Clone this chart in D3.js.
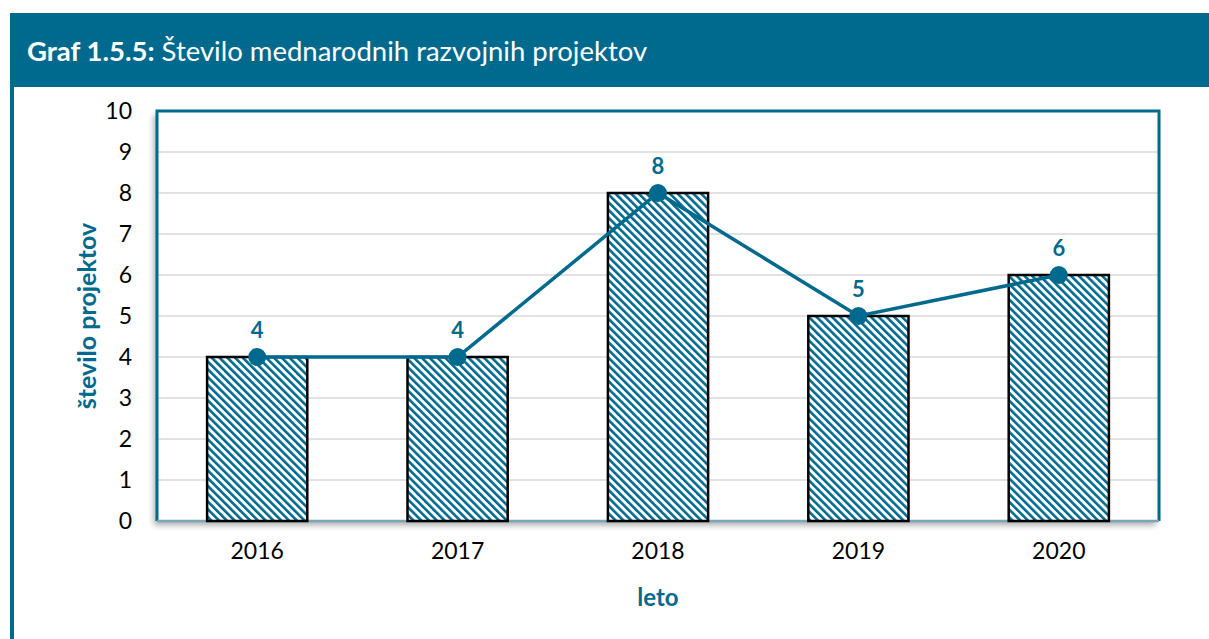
<!DOCTYPE html>
<html>
<head>
<meta charset="utf-8">
<script src="https://cdn.jsdelivr.net/npm/d3@7"></script>
<style>
  html, body { margin: 0; padding: 0; background: #fff; }
  svg { display: block; font-family: Lato, "Open Sans", sans-serif; }
</style>
</head>
<body>
<svg id="svg" width="1209" height="639"></svg>
<script>
const years = ["2016", "2017", "2018", "2019", "2020"];
const projects = [4, 4, 8, 5, 6];
const yTicks = [0, 1, 2, 3, 4, 5, 6, 7, 8, 9, 10];

const teal = "#006a8e";
const svg = d3.select("#svg");
const defs = svg.append("defs");

// diagonal hatch for bars
const pat = defs.append("pattern")
    .attr("id", "hatch")
    .attr("patternUnits", "userSpaceOnUse")
    .attr("width", 5.5).attr("height", 5.5)
    .attr("patternTransform", "rotate(-45)");
pat.append("rect").attr("width", 5.5).attr("height", 5.5).attr("fill", "#fff");
pat.append("rect").attr("width", 2.6).attr("height", 5.5).attr("fill", teal);

const shadow = defs.append("filter").attr("id", "shadow")
    .attr("x", "-5%").attr("y", "-5%").attr("width", "110%").attr("height", "115%");
shadow.append("feDropShadow")
    .attr("dx", -3).attr("dy", 4).attr("stdDeviation", 3)
    .attr("flood-color", "#000").attr("flood-opacity", 0.35);

// header band + left rule
svg.append("rect").attr("x", 10).attr("y", 13).attr("width", 1199).attr("height", 74).attr("fill", teal);
svg.append("rect").attr("x", 10).attr("y", 87).attr("width", 4).attr("height", 552).attr("fill", teal);

const title = svg.append("text").attr("x", 27).attr("y", 61)
    .attr("fill", "#fff").attr("font-size", 27.5);
title.append("tspan").attr("font-weight", "bold").text("Graf 1.5.5:");
title.append("tspan").text(" Število mednarodnih razvojnih projektov");

const plotL = 157, plotR = 1159, plotT = 111, plotB = 521;

const x = d3.scaleBand().domain(years).range([plotL, plotR])
    .paddingInner(0.5).paddingOuter(0.25);
const y = d3.scaleLinear().domain([0, 10]).range([plotB, plotT]);

// plot area with shadow
svg.append("rect")
    .attr("x", plotL).attr("y", plotT).attr("width", plotR - plotL).attr("height", plotB - plotT)
    .attr("fill", "#fff").attr("filter", "url(#shadow)");

// gridlines
svg.append("g").selectAll("line").data(yTicks.slice(1, -1)).join("line")
    .attr("x1", plotL).attr("x2", plotR)
    .attr("y1", d => y(d)).attr("y2", d => y(d))
    .attr("stroke", "#d9d9d9").attr("stroke-width", 1.5);

// border
svg.append("path")
    .attr("d", `M${plotL},${plotB}V${plotT}H${plotR}V${plotB}`)
    .attr("fill", "none").attr("stroke", teal).attr("stroke-width", 3);
svg.append("line")
    .attr("x1", plotL).attr("x2", plotR).attr("y1", plotB).attr("y2", plotB)
    .attr("stroke", "#7aa6b8").attr("stroke-width", 2.5);

// y axis labels
const yAxis = svg.append("g").attr("transform", `translate(${plotL - 25},0)`)
    .call(d3.axisLeft(y).tickValues(yTicks).tickSize(0).tickPadding(0));
yAxis.select(".domain").remove();
yAxis.selectAll("text").attr("font-size", 23).attr("fill", "#000")
    .attr("font-family", "Lato, sans-serif");

// x axis labels
const xAxis = svg.append("g").attr("transform", `translate(0,${plotB + 22})`)
    .call(d3.axisBottom(x).tickSize(0).tickPadding(0));
xAxis.select(".domain").remove();
xAxis.selectAll("text").attr("font-size", 23).attr("fill", "#000")
    .attr("font-family", "Lato, sans-serif");

// axis titles
svg.append("text").attr("x", (plotL + plotR) / 2).attr("y", 606)
    .attr("text-anchor", "middle").attr("font-size", 24).attr("font-weight", "bold")
    .attr("fill", teal).text("leto");
svg.append("text")
    .attr("transform", `translate(96,${(plotT + plotB) / 2}) rotate(-90)`)
    .attr("text-anchor", "middle").attr("font-size", 25).attr("font-weight", "bold")
    .attr("fill", teal).text("število projektov");

// bars
svg.append("g").selectAll("rect").data(projects).join("rect")
    .attr("x", (d, i) => x(years[i]))
    .attr("y", d => y(d))
    .attr("width", x.bandwidth())
    .attr("height", d => plotB - y(d))
    .attr("fill", "url(#hatch)")
    .attr("stroke", "#000").attr("stroke-width", 2.5);

// line + markers
const cx = (d, i) => x(years[i]) + x.bandwidth() / 2;
svg.append("path")
    .datum(projects)
    .attr("d", d3.line().x(cx).y(d => y(d)))
    .attr("fill", "none").attr("stroke", teal).attr("stroke-width", 3.5);
svg.append("g").selectAll("circle").data(projects).join("circle")
    .attr("cx", cx).attr("cy", d => y(d)).attr("r", 9).attr("fill", teal);

// data labels
svg.append("g").selectAll("text").data(projects).join("text")
    .attr("x", cx).attr("y", d => y(d) - 19)
    .attr("text-anchor", "middle").attr("font-size", 22).attr("font-weight", "bold")
    .attr("fill", teal).text(d => d);
</script>
</body>
</html>
